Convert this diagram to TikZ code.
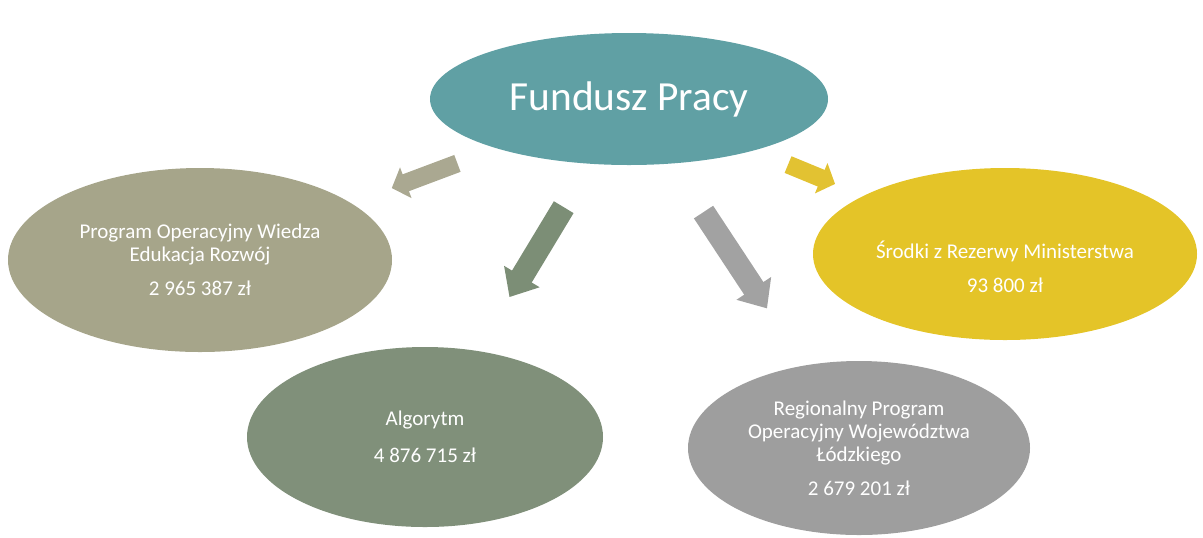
\documentclass[tikz,border=0pt]{standalone}
\usepackage{fontspec}
\setmainfont{Carlito}
\usetikzlibrary{shapes.geometric,arrows.meta,calc}
\definecolor{fpteal}{HTML}{60A0A4}
\definecolor{powtan}{HTML}{A6A58A}
\definecolor{algsage}{HTML}{80907A}
\definecolor{rpogrey}{HTML}{9E9E9E}
\definecolor{srmgold}{HTML}{E4C428}
\definecolor{powarrow}{HTML}{AAA891}
\definecolor{algarrow}{HTML}{7C8E76}
\definecolor{rpoarrow}{HTML}{A2A2A2}
\definecolor{srmarrow}{HTML}{E2C232}

\begin{document}
\begin{tikzpicture}[x=0.5pt,y=-0.5pt,
		oval/.style={ellipse,inner sep=0pt,text=white,align=center,font=\fontsize{10.5}{11.5}\selectfont},
		bigarrow/.style={line width=11.5pt,-{Triangle[length=12pt,width=20pt]}},
		smallarrow/.style={line width=9pt,-{Triangle[length=7.5pt,width=16pt]}}]
		%%%%% START %%%%%
		
		\useasboundingbox (0,0) rectangle (1203,537);
		
		\node[oval,fill=fpteal,minimum width=199pt,minimum height=66pt,font=\fontsize{20.7}{24}\selectfont] (fp) at (629,99) {\raisebox{3pt}{Fundusz Pracy}};
		
		\node[oval,fill=powtan,minimum width=192pt,minimum height=92pt] (pow) at (200,260) {Program Operacyjny Wiedza\\Edukacja Rozwój\\[5.5pt]2 965 387 zł};
		\node[oval,fill=algsage,minimum width=178pt,minimum height=90pt] (alg) at (425,437) {Algorytm\\[7pt]4 876 715 zł};
		\node[oval,fill=rpogrey,minimum width=171pt,minimum height=87pt] (rpo) at (859,448) {Regionalny Program\\Operacyjny Województwa\\Łódzkiego\\[5.5pt]2 679 201 zł};
		\node[oval,fill=srmgold,minimum width=192pt,minimum height=86pt,
			label={[oval,yshift=-6.5pt]center:Środki z Rezerwy Ministerstwa\\[5.5pt]93 800 zł}] (srm) at (1005,254) {};
		
		\draw[smallarrow,draw=powarrow,fill=powarrow] ($(fp)!0.40!(pow)$) -- ($(fp)!0.553!(pow)$);
		\draw[bigarrow,draw=algarrow,fill=algarrow] ($(fp)!0.32!(alg)$) -- ($(fp)!0.586!(alg)$);
		\draw[bigarrow,draw=rpoarrow,fill=rpoarrow] ($(fp)!0.324!(rpo)$) -- ($(fp)!0.60!(rpo)$);
		\draw[smallarrow,draw=srmarrow,fill=srmarrow] ($(fp)!0.423!(srm)$) -- ($(fp)!0.548!(srm)$);
		
		%%%%% END %%%%%
	\end{tikzpicture}
\end{document}
